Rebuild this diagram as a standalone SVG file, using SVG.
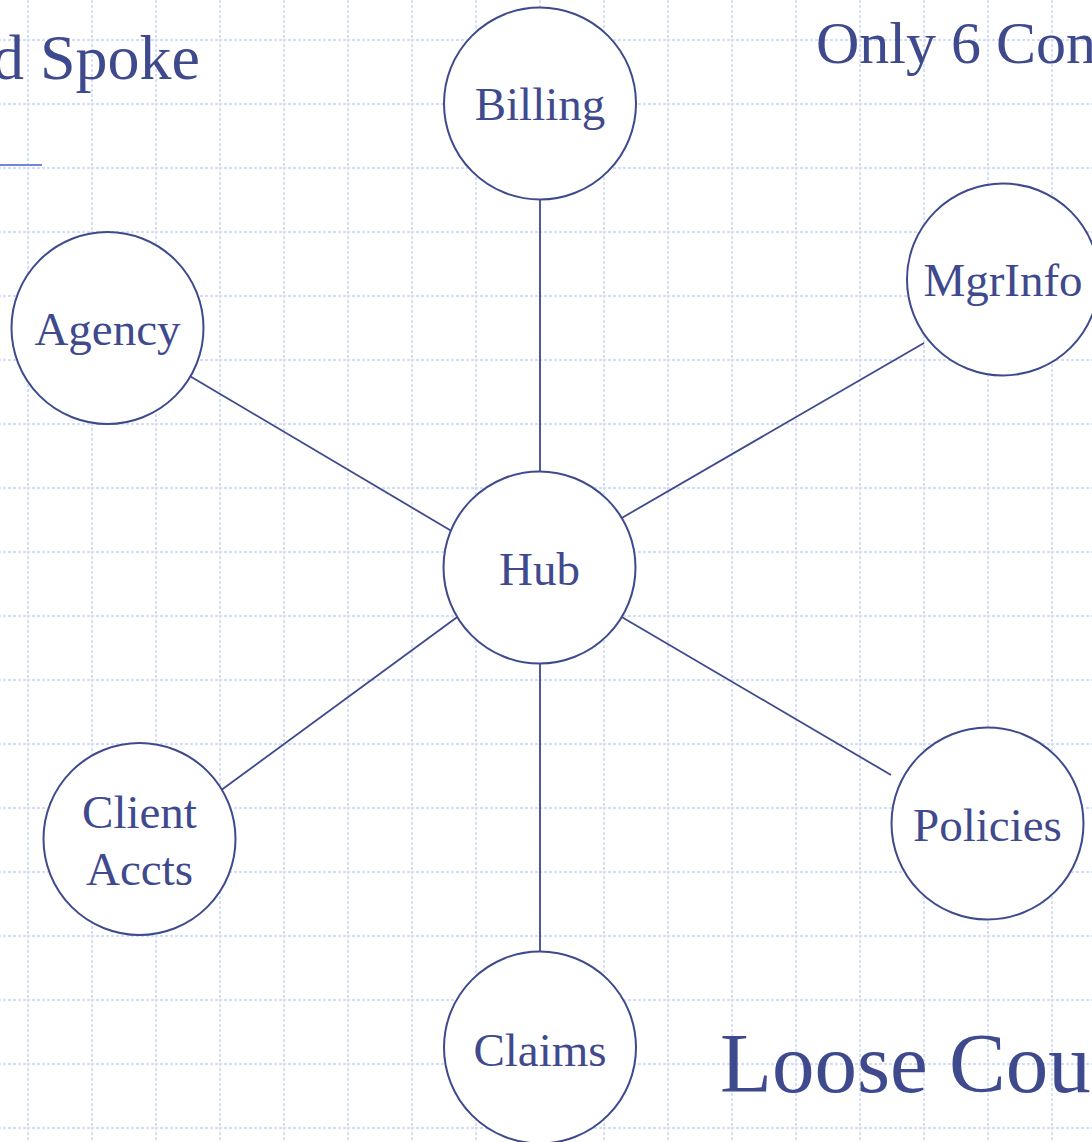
<svg xmlns="http://www.w3.org/2000/svg" width="1092" height="1142" viewBox="0 0 1092 1142">
<defs>
<pattern id="grid" x="27" y="39" width="64" height="64" patternUnits="userSpaceOnUse">
<line x1="1" y1="0" x2="1" y2="64" stroke="#d3ddfa" stroke-width="1.8" stroke-dasharray="3,2"/>
<line x1="0" y1="1" x2="64" y2="1" stroke="#d3ddfa" stroke-width="1.8" stroke-dasharray="3,2"/>
</pattern>
</defs>
<style>
.node circle { fill: #ffffff; stroke: #3f4a8e; stroke-width: 2; }
.node text { font-family: "Liberation Serif", "Times New Roman", serif; font-size: 47px; fill: #3f4a8e; text-anchor: middle; }
.title { font-family: "Liberation Serif", "Times New Roman", serif; fill: #3f4a8e; }
#connectors line { stroke: #3f4a8e; stroke-width: 1.8; }
</style>
<rect width="1092" height="1142" fill="#ffffff"/>
<rect width="1092" height="1142" fill="url(#grid)"/>
<line x1="0" y1="165" x2="42" y2="165" stroke="#6f86e0" stroke-width="2"/>
<text class="title" x="200" y="79" font-size="64" text-anchor="end">d Spoke</text>
<text class="title" x="816" y="63" font-size="60">Only 6 Con</text>
<text class="title" x="720" y="1092" font-size="85">Loose Cou</text>
<g id="connectors">
<line x1="540" y1="199" x2="540" y2="471"/>
<line x1="188" y1="375" x2="460" y2="536"/>
<line x1="924" y1="343" x2="620" y2="519"/>
<line x1="220" y1="791" x2="460" y2="615"/>
<line x1="620" y1="616" x2="891" y2="775"/>
<line x1="540" y1="663" x2="540" y2="952"/>
</g>
<g id="node-billing" class="node"><circle cx="540" cy="103.5" r="96"/><text x="540" y="120">Billing</text></g>
<g id="node-agency" class="node"><circle cx="107.5" cy="328" r="96"/><text x="107.5" y="345">Agency</text></g>
<g id="node-mgrinfo" class="node"><circle cx="1003" cy="279.5" r="96"/><text x="1003" y="296">MgrInfo</text></g>
<g id="node-hub" class="node"><circle cx="539.5" cy="567.5" r="96"/><text x="539.5" y="585">Hub</text></g>
<g id="node-client" class="node"><circle cx="139.5" cy="839" r="96"/><text x="139.5" y="828">Client</text><text x="139.5" y="885">Accts</text></g>
<g id="node-policies" class="node"><circle cx="987.5" cy="823.5" r="96"/><text x="987.5" y="841">Policies</text></g>
<g id="node-claims" class="node"><circle cx="540" cy="1047.5" r="96"/><text x="540" y="1066">Claims</text></g>
</svg>
